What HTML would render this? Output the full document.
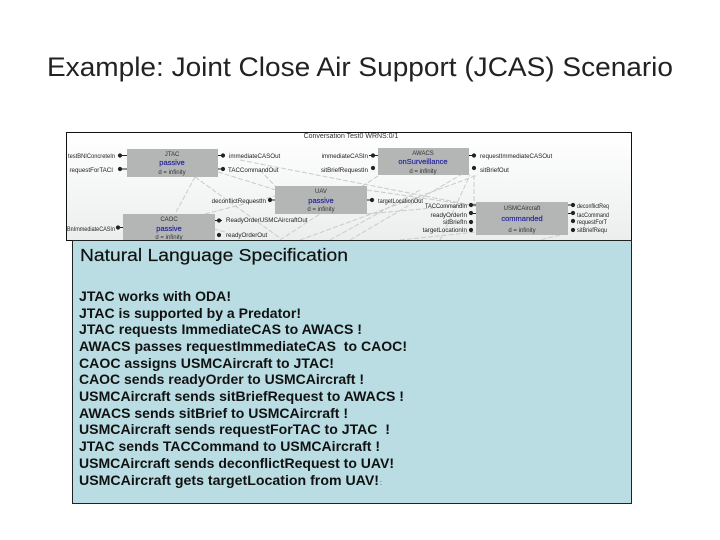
<!DOCTYPE html>
<html><head><meta charset="utf-8"><style>
html,body{margin:0;padding:0;background:#fff}
svg{display:block}
text{font-family:"Liberation Sans",sans-serif}
.s{font-size:6.2px;fill:#222}
.e{font-size:6.2px;fill:#222;text-anchor:end}
.b{font-size:7.5px;fill:#22229a;text-anchor:middle;stroke:#22229a;stroke-width:0.15}
.c{font-size:6px;fill:#333;text-anchor:middle}
.l{font-size:13.5px;font-weight:bold;fill:#111}
</style></head><body>
<svg width="720" height="540" viewBox="0 0 720 540" xmlns="http://www.w3.org/2000/svg">
<defs><linearGradient id="g" x1="0" y1="0" x2="0" y2="1"><stop offset="0" stop-color="#fff"/><stop offset="1" stop-color="#eceeee"/></linearGradient>
<filter id="bl" x="0" y="0" width="100%" height="100%"><feGaussianBlur stdDeviation="0.35"/></filter></defs>
<rect width="720" height="540" fill="#fff"/>
<text x="47" y="76" font-size="26.5" fill="#222" textLength="626" lengthAdjust="spacingAndGlyphs">Example: Joint Close Air Support (JCAS) Scenario</text>
<rect x="66.5" y="132.5" width="565" height="108" fill="url(#g)" stroke="#111"/>
<g filter="url(#bl)">
<g stroke="#c8cccc" stroke-width="1" fill="none" stroke-dasharray="5 2">
<path d="M218 172L276 190M195 177L280 238M225 232L160 214M240 160L476 206M205 214L275 196M367 214L476 204M300 240L478 175M350 240L469 170M400 240L476 232M260 170L275 186M367 190L476 206M440 240L470 175M474 175L474 204M560 235L520 245M195 177L175 214M280 240L378 176M330 240L420 190"/>
</g>
<g fill="#b4b6b6">
<rect x="127" y="149" width="91" height="28"/>
<rect x="275" y="186" width="92" height="28"/>
<rect x="123" y="214" width="92" height="26"/>
<rect x="378" y="148" width="91" height="27"/>
<rect x="476" y="202" width="92" height="33"/>
</g>
<text class="c" x="172" y="156">JTAC</text><text class="b" x="172" y="165">passive</text><text class="c" x="172" y="174">d = infinity</text>
<text class="c" x="321" y="193">UAV</text><text class="b" x="321" y="203">passive</text><text class="c" x="321" y="211">d = infinity</text>
<text class="c" x="169" y="221">CAOC</text><text class="b" x="169" y="231">passive</text><text class="c" x="169" y="239">d = infinity</text>
<text class="c" x="423" y="155">AWACS</text><text class="b" x="423" y="164">onSurveillance</text><text class="c" x="423" y="173">d = infinity</text>
<text class="c" x="522" y="210">USMCAircraft</text><text class="b" x="522" y="221">commanded</text><text class="c" x="522" y="232">d = infinity</text>
<text class="c" x="351" y="138" style="font-size:7px">Conversation Test0 WRNS:0/1</text>
<text class="s" x="68" y="158" textLength="47" lengthAdjust="spacingAndGlyphs">testBNIConcreteIn</text>
<text class="e" x="113" y="172">requestForTACI</text>
<text class="s" x="229" y="158">immediateCASOut</text>
<text class="s" x="228" y="172">TACCommandOut</text>
<text class="e" x="368" y="158">immediateCASIn</text>
<text class="e" x="368" y="172">sitBriefRequestIn</text>
<text class="e" x="266" y="203">deconflictRequestIn</text>
<text class="s" x="378" y="203" textLength="45" lengthAdjust="spacingAndGlyphs">targetLocationOut</text>
<text class="s" x="67" y="231" textLength="48" lengthAdjust="spacingAndGlyphs">BnImmediateCASIn</text>
<text class="s" x="226" y="222">ReadyOrderUSMCAircraftOut</text>
<text class="s" x="226" y="237">readyOrderOut</text>
<text class="s" x="480" y="158">requestImmediateCASOut</text>
<text class="s" x="480" y="172">sitBriefOut</text>
<text class="e" x="467" y="208" textLength="42" lengthAdjust="spacingAndGlyphs">TACCommandIn</text>
<text class="e" x="467" y="217">readyOrderIn</text>
<text class="e" x="467" y="224">sitBriefIn</text>
<text class="e" x="467" y="232">targetLocationIn</text>
<text class="s" x="577" y="208" textLength="32" lengthAdjust="spacingAndGlyphs">deconflictReq</text>
<text class="s" x="577" y="217" textLength="32" lengthAdjust="spacingAndGlyphs">tacCommand</text>
<text class="s" x="577" y="224" textLength="30" lengthAdjust="spacingAndGlyphs">requestForT</text>
<text class="s" x="577" y="232" textLength="30" lengthAdjust="spacingAndGlyphs">sitBriefRequ</text>
<g fill="#222" stroke="#222" stroke-width="1">
<path d="M120 155.5h7M120 169h7M218 155.5h7M218 169h7M116 227.5h7M215 220.5h7M269 200h6M367 200h6M369 155.5h9M469 155.5h6M470 205h6M470 213.5h6M568 205h6M568 213.5h6"/>
<circle cx="120" cy="155.5" r="1.6"/><circle cx="120" cy="169" r="1.6"/><circle cx="223" cy="155.5" r="1.6"/><circle cx="223" cy="169" r="1.6"/><circle cx="118" cy="227.5" r="1.6"/><circle cx="219" cy="220.5" r="1.6"/><circle cx="219" cy="235" r="1.6"/>
<circle cx="270" cy="200" r="1.6"/><circle cx="372" cy="200" r="1.6"/><circle cx="373" cy="168" r="1.6"/><circle cx="373" cy="155.5" r="1.6"/><circle cx="474" cy="155.5" r="1.6"/><circle cx="474" cy="168" r="1.6"/>
<circle cx="471" cy="205" r="1.6"/><circle cx="471" cy="213" r="1.6"/><circle cx="471" cy="222" r="1.6"/><circle cx="471" cy="230" r="1.6"/>
<circle cx="573" cy="205" r="1.6"/><circle cx="573" cy="213" r="1.6"/><circle cx="573" cy="221" r="1.6"/><circle cx="573" cy="230" r="1.6"/>
</g>
</g>
<rect x="72.5" y="240.5" width="559" height="263" fill="#b9dde2" stroke="#222"/>
<text x="80" y="261" font-size="17.5" fill="#111" stroke="#111" stroke-width="0.2" textLength="268" lengthAdjust="spacingAndGlyphs">Natural Language Specification</text>
<text class="l" x="79" y="301" textLength="152" lengthAdjust="spacingAndGlyphs">JTAC works with ODA!</text>
<text class="l" x="79" y="318" textLength="222" lengthAdjust="spacingAndGlyphs">JTAC is supported by a Predator!</text>
<text class="l" x="79" y="334" textLength="283" lengthAdjust="spacingAndGlyphs">JTAC requests ImmediateCAS to AWACS !</text>
<text class="l" x="79" y="351" textLength="328" lengthAdjust="spacingAndGlyphs" xml:space="preserve">AWACS passes requestImmediateCAS  to CAOC!</text>
<text class="l" x="79" y="368" textLength="255" lengthAdjust="spacingAndGlyphs">CAOC assigns USMCAircraft to JTAC!</text>
<text class="l" x="79" y="384" textLength="285" lengthAdjust="spacingAndGlyphs">CAOC sends readyOrder to USMCAircraft !</text>
<text class="l" x="79" y="401" textLength="325" lengthAdjust="spacingAndGlyphs">USMCAircraft sends sitBriefRequest to AWACS !</text>
<text class="l" x="79" y="418" textLength="269" lengthAdjust="spacingAndGlyphs">AWACS sends sitBrief to USMCAircraft !</text>
<text class="l" x="79" y="434" textLength="311" lengthAdjust="spacingAndGlyphs" xml:space="preserve">USMCAircraft sends requestForTAC to JTAC  !</text>
<text class="l" x="79" y="451" textLength="301" lengthAdjust="spacingAndGlyphs">JTAC sends TACCommand to USMCAircraft !</text>
<text class="l" x="79" y="468" textLength="315" lengthAdjust="spacingAndGlyphs">USMCAircraft sends deconflictRequest to UAV!</text>
<text class="l" x="79" y="485" textLength="300" lengthAdjust="spacingAndGlyphs">USMCAircraft gets targetLocation from UAV!</text>
<text x="380" y="485" font-size="7" fill="#333">:</text>
</svg>
</body></html>
